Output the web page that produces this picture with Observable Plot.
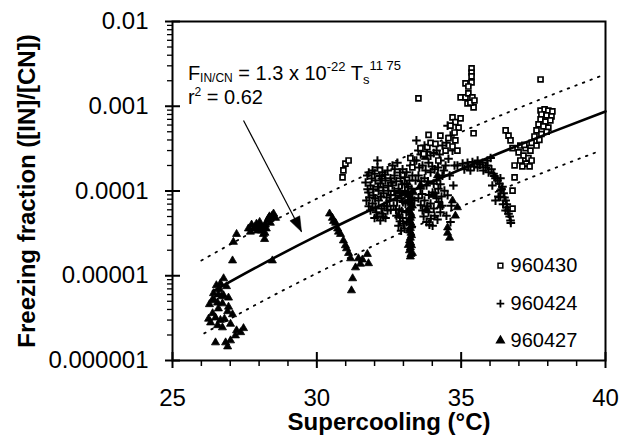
<!DOCTYPE html>
<html><head><meta charset="utf-8">
<script src="https://cdn.jsdelivr.net/npm/d3@7"></script>
<script src="https://cdn.jsdelivr.net/npm/@observablehq/plot@0.6"></script>
<style>body{margin:0;background:#fff}#chart{width:629px;height:442px}</style>
</head><body><div id="chart"></div>
<script>
// ---- data ----
const seriesNames = ["960430", "960424", "960427"];

// 960430 — open squares [supercooling °C, freezing fraction]
const s960430 = [
 [30.89,1.45e-4],[30.92,1.75e-4],[30.99,2.1e-4],[31.10,2.29e-4],
 [33.52,1.24e-3],
 [35.36,2.8e-3],[35.36,2.5e-3],[35.36,2.25e-3],[35.15,1.86e-3],[35.36,1.91e-3],[35.25,1.71e-3],
 [34.98,1.27e-3],[35.15,1.27e-3],[35.25,1.42e-3],[35.39,1.27e-3],[35.22,1.08e-3],[35.43,9.7e-4],
 [35.32,1.1e-3],[35.46,1.17e-3],
 [37.75,2.07e-3],
 [37.75,8.9e-4],[37.89,9.2e-4],[38.02,8.9e-4],[38.16,8.7e-4],[37.78,8.0e-4],[37.96,7.8e-4],
 [38.13,7.6e-4],[37.75,7.0e-4],[37.92,6.6e-4],[38.09,6.8e-4],[37.68,6.1e-4],[37.85,5.8e-4],
 [38.02,5.6e-4],[37.61,5.2e-4],[37.78,4.7e-4],[37.96,5.0e-4],[37.54,4.4e-4],[37.71,4.0e-4],
 [37.44,3.7e-4],[37.61,3.44e-4],
 [37.05,3.44e-4],[37.23,3.2e-4],[37.40,3.0e-4],[36.99,2.85e-4],[37.16,2.62e-4],[37.33,2.45e-4],
 [37.05,2.29e-4],[37.26,2.1e-4],[37.44,2.29e-4],[37.12,1.95e-4],[37.37,1.95e-4],[37.19,3.5e-4],
 [36.54,5.2e-4],[36.64,4.5e-4],[36.71,3.95e-4],[36.78,3.2e-4],[36.85,2.0e-4],[36.85,1.45e-4],
 [36.78,1.01e-4],[36.78,6.2e-5],[35.43,4.8e-4],
 [33.24,2.45e-4],[33.31,1.9e-4],[33.87,4.6e-4],[33.83,3.3e-4],[33.59,3.2e-4],[33.94,3.7e-4],
 [34.11,3.6e-4],[33.70,2.75e-4],[34.28,4.5e-4],[34.46,3.0e-4],[34.21,2.29e-4],
 [34.70,7.4e-4],[34.80,6.5e-4],[34.91,5.6e-4],[34.63,5.9e-4],[34.77,4.9e-4],[34.56,4.2e-4],
 [34.80,3.95e-4],[34.70,3.35e-4],[34.87,3.0e-4],[34.98,7.2e-4]
];

// 960424 — plus signs
const s960424 = [
 [31.75,1.52e-4],[31.93,1.75e-4],[32.10,1.9e-4],[32.27,1.66e-4],[32.45,1.75e-4],[32.10,2.29e-4],
 [31.69,1.26e-4],[31.86,1.16e-4],[32.03,1.33e-4],[32.20,1.23e-4],[32.38,1.33e-4],[32.55,1.41e-4],
 [31.79,9.6e-5],[31.96,8.9e-5],[32.14,1.01e-4],[32.31,9.4e-5],[32.48,1.01e-4],
 [31.72,7.7e-5],[31.93,7.1e-5],[32.14,7.7e-5],[32.34,6.7e-5],[32.52,7.7e-5],
 [31.86,5.9e-5],[32.06,5.6e-5],[32.27,5.4e-5],[32.45,5.9e-5],[32.00,4.8e-5],[32.20,4.5e-5],[32.38,4.8e-5],
 [31.80,1.65e-4],[32.00,1.6e-4],[32.18,1.5e-4],[32.36,1.55e-4],[31.76,1.05e-4],[31.95,1.05e-4],
 [32.12,1.12e-4],[32.30,1.1e-4],[32.47,1.15e-4],[31.82,8.4e-5],[32.02,8.2e-5],[32.22,8.6e-5],
 [32.42,8.4e-5],[31.80,6.6e-5],[32.03,6.4e-5],[32.24,6.2e-5],[32.43,6.6e-5],[32.10,5.0e-5],
 [32.30,5.0e-5],[31.90,1.4e-4],[32.25,1.4e-4],[32.58,1.25e-4],[32.56,9.0e-5],[32.56,6.0e-5],
 [32.62,2.0e-4],[32.79,2.15e-4],[32.97,1.8e-4],[32.69,1.52e-4],[32.90,1.41e-4],[33.11,1.66e-4],
 [32.62,1.16e-4],[32.83,1.06e-4],[33.04,1.23e-4],[33.21,1.33e-4],[32.72,8.9e-5],[32.93,8.2e-5],
 [33.14,9.4e-5],[32.66,6.7e-5],[32.86,6.1e-5],[33.07,7.1e-5],[32.76,5.1e-5],[32.97,4.8e-5],
 [32.83,3.9e-5],[33.04,3.6e-5],[33.24,2.0e-4],[33.28,1.06e-4],[33.11,4.3e-5],[33.17,1.12e-4],
 [33.31,1.52e-4],[33.31,8.2e-5],[33.24,6.1e-5],[33.38,2.29e-4],[33.42,1.33e-4],[33.38,7.7e-5],
 [32.70,1.8e-4],[32.88,1.65e-4],[33.05,1.45e-4],[32.75,1.3e-4],[32.95,1.2e-4],[33.12,1.2e-4],
 [32.68,1.0e-4],[32.88,9.5e-5],[33.05,1.0e-4],[32.78,7.7e-5],[32.98,7.4e-5],[33.15,7.8e-5],
 [32.74,6.0e-5],[32.94,5.8e-5],[33.10,5.6e-5],[32.88,4.4e-5],[33.00,4.1e-5],[32.92,3.4e-5],
 [33.52,3.0e-4],[33.73,3.44e-4],[33.94,2.62e-4],[34.15,3.0e-4],[34.35,3.44e-4],
 [33.45,2.29e-4],[33.66,2.0e-4],[33.87,2.15e-4],[34.08,1.8e-4],[34.28,2.29e-4],[34.46,2.0e-4],
 [33.52,1.52e-4],[33.73,1.41e-4],[33.94,1.66e-4],[34.15,1.33e-4],[34.35,1.52e-4],
 [33.59,1.06e-4],[33.80,1.16e-4],[34.01,9.6e-5],[34.21,1.06e-4],[34.42,1.01e-4],
 [33.52,8.2e-5],[33.73,7.7e-5],[33.94,7.1e-5],[34.15,8.2e-5],[34.35,6.7e-5],
 [33.66,5.9e-5],[33.87,5.6e-5],[34.08,5.1e-5],[34.28,5.6e-5],[33.80,4.3e-5],[34.01,3.9e-5],
 [33.60,2.7e-4],[33.82,2.9e-4],[34.05,2.8e-4],[34.25,2.7e-4],[33.55,1.9e-4],[33.77,1.75e-4],
 [34.00,1.95e-4],[34.20,1.9e-4],[34.40,1.75e-4],[33.62,1.3e-4],[33.85,1.3e-4],[34.05,1.22e-4],
 [34.28,1.2e-4],[33.65,9.2e-5],[33.88,9.0e-5],[34.10,9.4e-5],[34.32,8.6e-5],[33.60,6.8e-5],
 [33.83,6.6e-5],[34.05,6.2e-5],[34.22,7.4e-5],[33.70,5.0e-5],[33.95,4.7e-5],[34.18,4.6e-5],
 [33.90,4.0e-5],[33.45,3.95e-4],
 [34.53,5.9e-4],[34.63,4.5e-4],[34.49,3.7e-4],[34.70,3.0e-4],[34.56,2.4e-4],[34.77,2.0e-4],
 [34.60,1.52e-4],[34.73,1.16e-4],[34.53,8.9e-5],[34.66,6.7e-5],[34.49,5.1e-5],[34.63,4.3e-5],
 [34.87,2.0e-4],[35.05,2.1e-4],[35.22,2.15e-4],[35.39,2.2e-4],[35.57,2.29e-4],[35.74,2.15e-4],
 [35.91,2.29e-4],[35.11,1.8e-4],[35.32,1.75e-4],[35.45,1.95e-4],[35.25,1.95e-4],
 [35.57,1.9e-4],[35.77,1.75e-4],[36.02,2.45e-4],[36.12,1.6e-4],[36.26,1.33e-4],[36.36,1.41e-4],
 [36.43,1.12e-4],[36.47,9.4e-5],[36.29,8.6e-5],[36.19,7.7e-5],[36.54,7.7e-5],[36.60,6.4e-5],
 [36.64,5.4e-5],[36.71,4.5e-5],[35.91,2.0e-4],[36.08,1.16e-4],[36.36,1.01e-4],[36.54,5.9e-5],
 [36.19,1.41e-4],[35.95,1.66e-4],[35.65,2.05e-4],[35.85,1.9e-4],[36.05,1.8e-4],[36.15,1.5e-4],
 [36.32,1.22e-4],[36.40,1.05e-4],[36.35,8.5e-5],[36.50,8.4e-5],[36.45,7.0e-5],[36.58,7.0e-5],
 [36.62,5.9e-5],[36.68,5.0e-5],[36.72,4.2e-5]
];

// 960427 — filled triangles
const s960427 = [
 [26.77,9.3e-6],[26.66,8.1e-6],[26.87,7.5e-6],[26.42,6.2e-6],[26.59,6.0e-6],[26.77,5.85e-6],
 [26.94,5.5e-6],[26.39,5.25e-6],[26.56,4.8e-6],[26.73,4.7e-6],[26.94,4.3e-6],[26.59,4.1e-6],
 [26.91,3.8e-6],[26.39,3.6e-6],[27.08,3.5e-6],[26.25,3.1e-6],[26.49,3.2e-6],[26.66,3.0e-6],
 [26.32,2.8e-6],[26.56,2.6e-6],[27.01,2.7e-6],[26.73,2.45e-6],[27.46,2.4e-6],[27.36,2.15e-6],
 [27.18,1.97e-6],[27.01,1.72e-6],[26.49,1.63e-6],[26.84,1.63e-6],[26.91,1.46e-6],[26.45,5.1e-6],
 [26.63,6.9e-6],[26.28,4.6e-6],[26.80,3.1e-6],[27.22,2.26e-6],[26.70,5.7e-6],[26.52,7.7e-6],
 [27.08,1.51e-5],[27.11,2.5e-5],[27.22,3.1e-5],[28.46,1.51e-5],
 [27.63,3.6e-5],[27.81,3.6e-5],[27.94,3.4e-5],[28.05,3.9e-5],[28.15,3.1e-5],[28.19,2.7e-5],
 [28.29,4.5e-5],[28.39,4.2e-5],[28.50,5.4e-5],[28.57,4.8e-5],[27.91,4.1e-5],[28.25,3.6e-5],
 [27.74,4.0e-5],[28.08,3.4e-5],[28.36,5.0e-5],[27.70,3.3e-5],[27.88,3.8e-5],[28.00,3.6e-5],
 [28.12,3.7e-5],[28.22,4.0e-5],[28.33,4.8e-5],[28.45,5.1e-5],[28.02,4.3e-5],[28.20,3.2e-5],
 [30.44,5.4e-5],[30.54,4.8e-5],[30.65,4.2e-5],[30.72,3.6e-5],[30.82,3.1e-5],[30.92,2.6e-5],
 [30.99,2.28e-5],[31.10,1.85e-5],[31.17,1.6e-5],[31.44,1.6e-5],[31.51,1.38e-5],[31.75,1.8e-5],
 [31.79,1.4e-5],[31.34,1.25e-5],[31.24,9.3e-6],[31.20,6.7e-6],[30.58,4.4e-5],[30.75,3.3e-5],
 [31.03,2.1e-5],[31.58,1.55e-5],
 [34.53,3.2e-5],[34.60,2.8e-5],[34.70,7.7e-5],[34.87,6.4e-5],[34.80,5.1e-5],[34.53,3.7e-5],
 [33.76,2.5e-4],
 [33.24,1.68e-5],[33.21,1.99e-5],[33.28,2.28e-5],[33.21,2.6e-5],[33.28,3.0e-5],[33.21,3.4e-5],
 [33.28,3.9e-5],[33.21,4.5e-5],[33.28,5.1e-5],[33.17,5.9e-5],[33.31,6.7e-5],[33.21,7.7e-5],
 [33.14,8.9e-5],[33.35,9.6e-5],[33.31,1.85e-5],[33.17,2.3e-5],
 [33.26,1.8e-5],[33.24,2.15e-5],[33.25,2.45e-5],[33.24,2.8e-5],[33.26,3.2e-5],[33.24,3.65e-5],
 [33.26,4.2e-5],[33.24,4.8e-5],[33.25,5.5e-5],[33.24,6.3e-5],[33.26,7.2e-5],[33.25,8.3e-5],
 [33.59,1.16e-4],[34.01,8.9e-5],[34.28,6.7e-5],[32.83,5.1e-5],[33.80,6.1e-5],[34.18,1.52e-4]
];

// fitted power law and dotted bounds
const fitLine = [[26.4,6.57e-6],[28,1.31e-5],[30,2.95e-5],[32,6.3e-5],[34,1.285e-4],[36,2.52e-4],[38,4.75e-4],[40,8.68e-4]];
const upperBound = [[26,1.51e-5],[28,3.61e-5],[30,8.12e-5],[32,1.73e-4],[34,3.53e-4],[36,6.92e-4],[38,1.305e-3],[39.8,2.25e-3]];
const lowerBound = [[26.1,2.09e-6],[28,4.77e-6],[30,1.07e-5],[32,2.29e-5],[34,4.67e-5],[36,9.15e-5],[38,1.73e-4],[39.8,2.97e-4]];

// annotation arrow (tail, head)
const arrowTail = [27.46, 6.8e-4];
const arrowHeadPt = [29.47, 3.3e-5];

// ticks
const xTicks = [25, 30, 35, 40];
const xMinor = [26,27,28,29,31,32,33,34,36,37,38,39];
const yTicks = [1e-6, 1e-5, 1e-4, 1e-3, 1e-2];
const yTickLabels = ["0.000001", "0.00001", "0.0001", "0.001", "0.01"];

// ---- layout constants ----
const legendX = 36.36, legendTextX = 36.71;
const legendY = [1.32e-5, 4.7e-6, 1.72e-6];
const annoPos = {x: 25.55, y1: 2.01e-3, y2: 1.06e-3};

const yMinor = [];
for (let e = -6; e < -2; e++) for (let k = 2; k <= 9; k++) yMinor.push(k * Math.pow(10, e));
const yLabelMap = new Map(yTicks.map((t, i) => [t, yTickLabels[i]]));

const X = d => d[0], Y = d => d[1];
const arrowSymbol = {draw(ctx) { ctx.moveTo(0, 0); ctx.lineTo(-11.6, -11.0); ctx.lineTo(-1.8, -16.0); ctx.closePath(); }};

const legendRows = seriesNames.map((n, i) => ({name: n, y: legendY[i]}));
const font = "'Liberation Sans', Arial, Helvetica, sans-serif";

const plot = Plot.plot({
  width: 629, height: 442,
  marginLeft: 172, marginRight: 24, marginTop: 21, marginBottom: 82,
  style: {fontFamily: font, fontSize: "24px", color: "#000", background: "#fff", overflow: "visible"},
  x: {domain: [25, 40]},
  y: {type: "log", domain: [1e-6, 1e-2]},
  marks: [
    Plot.line(upperBound, {x: X, y: Y, stroke: "#000", strokeWidth: 1.8, strokeDasharray: "1.6,6.5", curve: "monotone-x"}),
    Plot.line(lowerBound, {x: X, y: Y, stroke: "#000", strokeWidth: 1.8, strokeDasharray: "1.6,6.5", curve: "monotone-x"}),
    Plot.dot(s960427, {x: X, y: Y, symbol: "triangle", r: 3.0, fill: "#000", stroke: "#000", strokeWidth: 0.8}),
    Plot.dot(s960424, {x: X, y: Y, symbol: "plus", r: 2.9, stroke: "#000", strokeWidth: 2}),
    Plot.dot(s960430, {x: X, y: Y, symbol: "square", r: 2.8, fill: "#fff", stroke: "#000", strokeWidth: 1.7}),
    Plot.line(fitLine, {x: X, y: Y, stroke: "#000", strokeWidth: 2.6, curve: "monotone-x"}),
    Plot.link([[arrowTail, arrowHeadPt]], {x1: d => d[0][0], y1: d => d[0][1], x2: d => d[1][0], y2: d => d[1][1], stroke: "#000", strokeWidth: 1.2}),
    Plot.dot([arrowHeadPt], {x: X, y: Y, symbol: arrowSymbol, r: 1, fill: "#000", stroke: "#000", strokeWidth: 0.5}),
    // legend
    Plot.dot(legendRows.slice(0,1), {x: () => legendX, y: "y", symbol: "square", r: 2.7, fill: "#fff", stroke: "#000", strokeWidth: 1.5}),
    Plot.dot(legendRows.slice(1,2), {x: () => legendX, y: "y", symbol: "plus", r: 2.6, stroke: "#000", strokeWidth: 1.8}),
    Plot.dot(legendRows.slice(2,3), {x: () => legendX, y: "y", symbol: "triangle", r: 2.8, fill: "#000", stroke: "#000"}),
    Plot.text(legendRows, {x: () => legendTextX, y: "y", text: "name", textAnchor: "start", lineAnchor: "middle", fontSize: 20, fill: "#000"}),
    // axes
    Plot.axisX(xTicks, {tickSize: 8, tickPadding: 20, strokeWidth: 2, fontSize: 24, label: null}),
    Plot.axisX(xTicks, {tickSize: -8, text: null, strokeWidth: 2, label: null}),
    Plot.axisX(xMinor, {tickSize: 6, text: null, strokeWidth: 1.5, label: null}),
    Plot.axisY(yTicks, {tickSize: 7, tickPadding: 17, strokeWidth: 2, fontSize: 24, tickFormat: d => yLabelMap.get(d), label: null}),
    Plot.axisY(yTicks, {tickSize: -8, text: null, strokeWidth: 2, label: null}),
    Plot.axisY(yMinor, {tickSize: 5, text: null, strokeWidth: 1.3, label: null}),
    Plot.frame({stroke: "#000", strokeWidth: 2}),
    Plot.text(["Supercooling (°C)"], {frameAnchor: "bottom", dy: 62, lineAnchor: "middle", textAnchor: "middle", fontSize: 24, fontWeight: "bold", fill: "#000"}),
    Plot.text(["Freezing fraction ([IN]/[CN])"], {frameAnchor: "left", dx: -145, rotate: -90, lineAnchor: "middle", textAnchor: "middle", fontSize: 24, fontWeight: "bold", fill: "#000"})
  ]
});
document.getElementById("chart").appendChild(plot);

// rich-text annotation (subscripts / superscripts)
const sx = plot.scale("x"), sy = plot.scale("y");
const fx = sx.apply ? v => sx.apply(v) : d3.scaleLinear(sx.domain, sx.range);
const fy = sy.apply ? v => sy.apply(v) : d3.scaleLog(sy.domain, sy.range);
const svg = d3.select(plot);
const t1 = svg.append("text").attr("x", fx(annoPos.x)).attr("y", fy(annoPos.y1))
  .attr("text-anchor", "start").attr("font-family", font).attr("font-size", 20).attr("fill", "#000");
t1.append("tspan").text("F");
t1.append("tspan").attr("font-size", 12).attr("dy", 2).text("IN/CN");
t1.append("tspan").attr("dy", -2).text(" = 1.3 x 10");
t1.append("tspan").attr("font-size", 13).attr("dy", -9).text("-22");
t1.append("tspan").attr("dy", 9).text(" T");
t1.append("tspan").attr("font-size", 13).attr("dy", 4).text("s");
t1.append("tspan").attr("font-size", 13).attr("dy", -14).text("11 75");
const t2 = svg.append("text").attr("x", fx(annoPos.x)).attr("y", fy(annoPos.y2))
  .attr("text-anchor", "start").attr("font-family", font).attr("font-size", 20).attr("fill", "#000");
t2.append("tspan").text("r");
t2.append("tspan").attr("font-size", 12).attr("dy", -8).text("2");
t2.append("tspan").attr("dy", 8).text(" = 0.62");
</script>
</body></html>
